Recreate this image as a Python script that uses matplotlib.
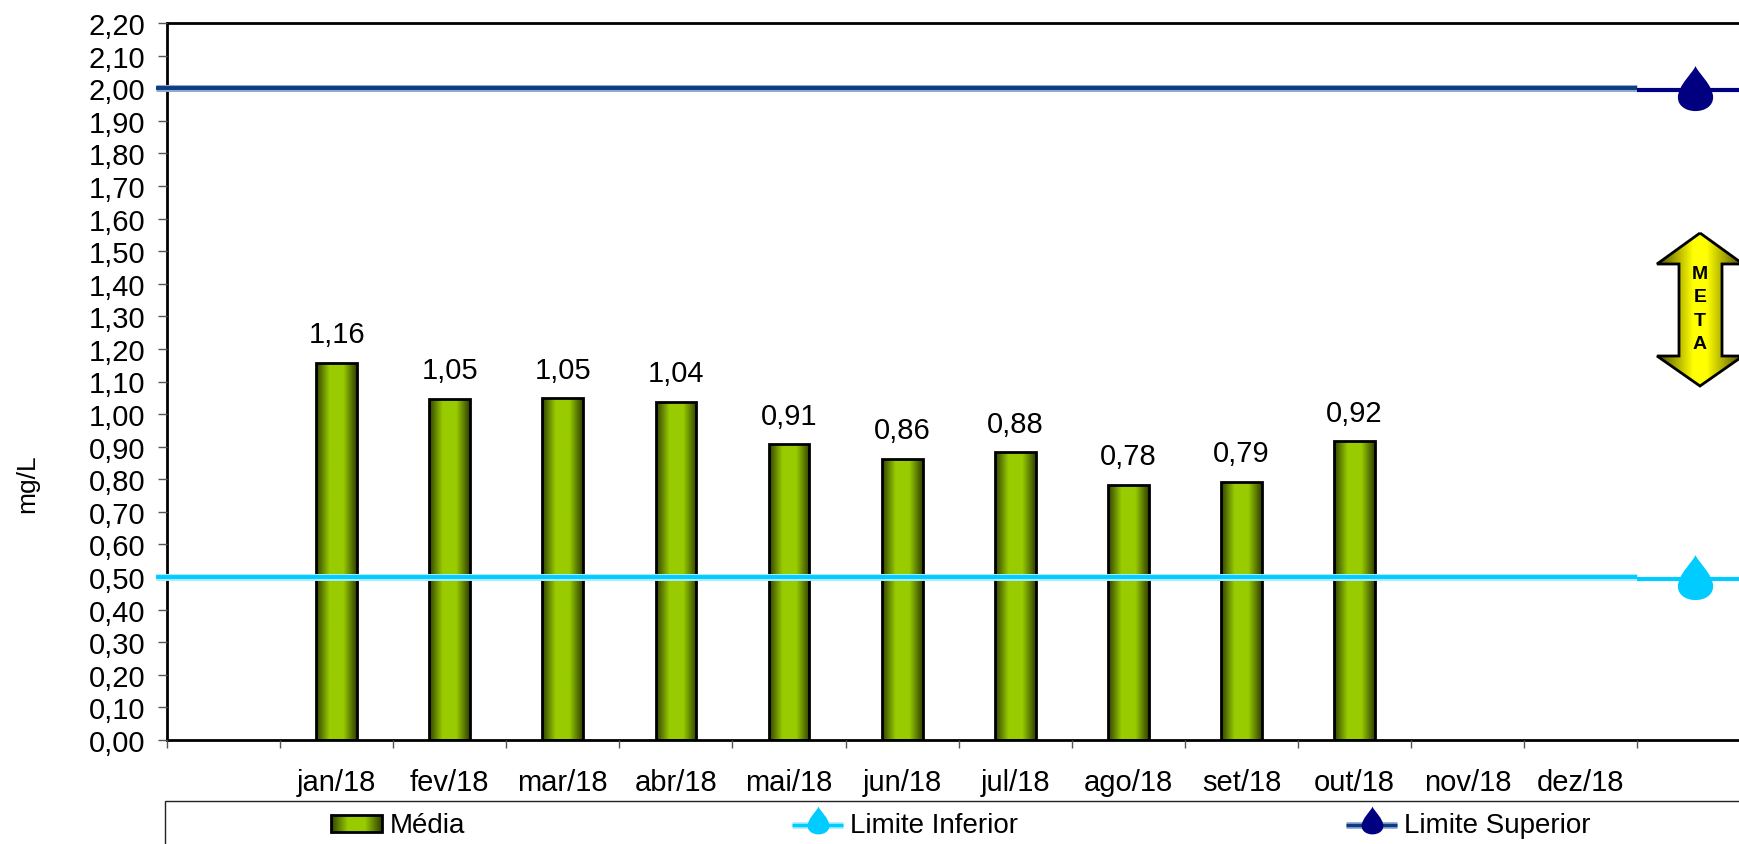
import numpy as np
import matplotlib
matplotlib.use('Agg')
import matplotlib.pyplot as plt
from matplotlib.colors import LinearSegmentedColormap
from matplotlib.patches import Polygon, Rectangle
from matplotlib.path import Path

plt.rcParams['font.family'] = ['Liberation Sans', 'DejaVu Sans']

# Dados
meses = ['jan/18', 'fev/18', 'mar/18', 'abr/18', 'mai/18', 'jun/18',
         'jul/18', 'ago/18', 'set/18', 'out/18', 'nov/18', 'dez/18']
media = [1.158, 1.047, 1.048, 1.038, 0.908, 0.863, 0.883, 0.783, 0.793, 0.916]
rotulos = ['1,16', '1,05', '1,05', '1,04', '0,91', '0,86', '0,88', '0,78', '0,79', '0,92']
limite_inferior = 0.5
limite_superior = 2.0

W, H = 1740, 845
verde = LinearSegmentedColormap.from_list('verde', ['#2f4000', '#99cc00', '#99cc00', '#2f4000'])
amarelo = LinearSegmentedColormap.from_list('amarelo', [(0, '#4a4a00'), (0.42, '#ffff00'),
                                                        (0.58, '#ffff00'), (1, '#4a4a00')])
grad = np.linspace(0, 1, 256).reshape(1, -1)

# Gota usada como marcador
gota = Path(
    [(0, 1), (0.1, 0.7), (0.78, 0.15), (0.78, -0.4), (0.78, -0.75), (0.45, -1), (0, -1),
     (-0.45, -1), (-0.78, -0.75), (-0.78, -0.4), (-0.78, 0.15), (-0.1, 0.7), (0, 1)],
    [Path.MOVETO] + [Path.CURVE4] * 12)

fig = plt.figure(figsize=(W / 100, H / 100), dpi=100, facecolor='white')

# O eixo passa um pouco da borda direita, como no original
esq, larg = 167, 14 * 113.1
topo, base = 24, 741
ax = fig.add_axes([esq / W, 1 - base / H, larg / W, (base - topo) / H])

x = np.arange(1, len(media) + 1) + 0.5
barras = ax.bar(x, media, width=0.36, facecolor='none', edgecolor='black', linewidth=2, zorder=3)
for b in barras:
    im = ax.imshow(grad, cmap=verde, aspect='auto', zorder=2,
                   extent=[b.get_x(), b.get_x() + b.get_width(), 0, b.get_height()])
    im.set_clip_path(b)

for xi, v, r in zip(x, media, rotulos):
    ax.annotate(r, (xi, v), xytext=(0, 20.5), textcoords='offset points',
                ha='center', va='center', fontsize=21)

# Limites
ini = -11 / 113.1
for valor, claro, escuro, fino in [(limite_superior, '#8fa6d0', '#0b3d80', '#000080'),
                                   (limite_inferior, '#a5ecff', '#00ccff', '#00ccff')]:
    ax.plot([ini, 13], [valor, valor], color=claro, lw=5, solid_capstyle='butt', clip_on=False, zorder=4)
    ax.plot([ini, 13], [valor, valor], color=escuro, lw=2.8, solid_capstyle='butt', clip_on=False, zorder=5)
    ax.plot([13, 14], [valor - 0.006, valor - 0.006], color=fino, lw=3, solid_capstyle='butt', zorder=4)
    ax.plot([13.51], [valor], marker=gota, ms=32.5, color=fino, mew=0, zorder=6)

ax.set_xlim(0, 14)
ax.set_ylim(0, 2.2)
ax.set_yticks(np.arange(0, 23) / 10)
ax.set_yticklabels([f'{t / 10:.2f}'.replace('.', ',') for t in range(23)], fontsize=21)
ax.set_xticks(np.arange(0, 15))
ax.set_xticklabels([])
ax.set_xticks(np.arange(1, 13) + 0.5, meses, minor=True, fontsize=21)
ax.tick_params(axis='x', which='major', length=6, width=1, color='#555555', direction='out')
ax.tick_params(axis='x', which='minor', length=0, pad=20)
ax.tick_params(axis='y', length=6.5, width=1, color='#555555', pad=9)
for s in ax.spines.values():
    s.set_linewidth(2)
ax.set_axisbelow(False)

fig.text(27 / W, 1 - 484 / H, 'mg/L', rotation=90, ha='center', va='center', fontsize=19)

# Camada em pixels para legenda e seta
ov = fig.add_axes([0, 0, 1, 1], facecolor='none')
ov.set_xlim(0, W)
ov.set_ylim(H, 0)
ov.axis('off')

ov.add_patch(Rectangle((165, 802), 1600, 60, facecolor='white', edgecolor='#222222', lw=1))

ret = Rectangle((331, 816), 51, 17, facecolor='none', edgecolor='black', lw=2, zorder=3)
ov.add_patch(ret)
im = ov.imshow(grad, cmap=verde, aspect='auto', extent=[331, 382, 833, 816], zorder=2)
im.set_clip_path(ret)
ov.text(390, 826, 'Média', fontsize=20, va='center')

for x0, claro, escuro, fino, nome in [(792, '#a5ecff', '#00ccff', '#00ccff', 'Limite Inferior'),
                                      (1346, '#8fa6d0', '#0b3d80', '#000080', 'Limite Superior')]:
    ov.plot([x0, x0 + 51], [826, 826], color=claro, lw=4.8, solid_capstyle='butt')
    ov.plot([x0, x0 + 51], [826, 826], color=escuro, lw=2.4, solid_capstyle='butt')
    ov.plot([x0 + 26], [821], marker=gota, ms=20, color=fino, mew=0)
    ov.text(x0 + 58, 826, nome, fontsize=20, va='center')

# Seta META
seta = Polygon([(1700, 234), (1743, 265), (1722, 265), (1722, 357), (1743, 357), (1700, 387),
                (1657, 357), (1679, 357), (1679, 265), (1657, 265)],
               closed=True, facecolor='none', edgecolor='black', lw=2, zorder=3)
ov.add_patch(seta)
im = ov.imshow(grad, cmap=amarelo, aspect='auto', extent=[1657, 1743, 387, 234], zorder=2)
im.set_clip_path(seta)
for letra, yl in zip('META', [275, 298, 322, 345]):
    ov.text(1700, yl, letra, fontsize=14, fontweight='bold', ha='center', va='center', zorder=4)
ov.set_xlim(0, W)
ov.set_ylim(H, 0)

fig.savefig('out.png', dpi=100)
